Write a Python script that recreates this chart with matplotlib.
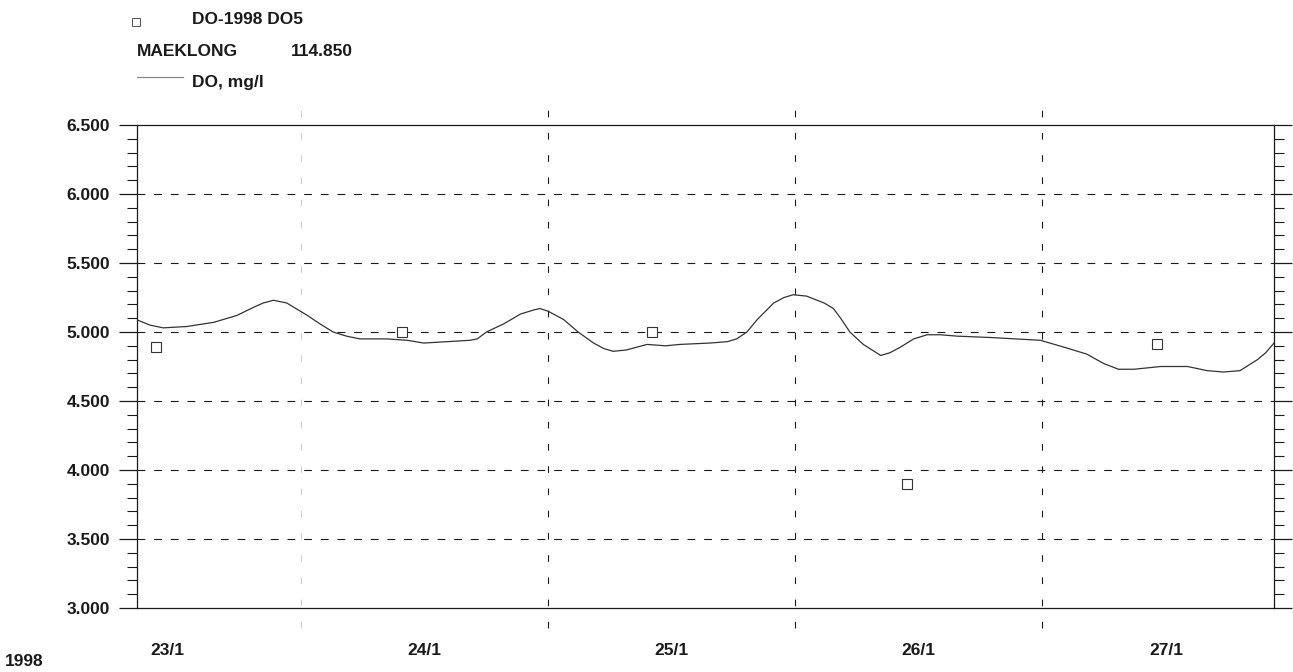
import matplotlib
matplotlib.use("Agg")
import matplotlib.pyplot as plt
from matplotlib.ticker import MultipleLocator, FormatStrFormatter
import matplotlib.transforms as mtransforms

plt.rcParams['font.family'] = ['Liberation Sans', 'DejaVu Sans']

# Hours counted from 23/1/1998 00:00
do_hours = [8.0, 9.3, 10.6, 12.9, 15.5, 17.75, 19.4, 20.3, 21.3, 22.6, 24.6, 25.8,
            27.1, 28.4, 29.7, 32.3, 34.3, 35.9, 38.2, 40.4, 41.1, 42.0, 43.7, 45.3,
            46.6, 47.2, 48.0, 49.5, 50.9, 52.4, 53.4, 54.3, 55.6, 57.6, 59.4, 60.8,
            63.7, 65.4, 66.3, 67.3, 68.3, 69.9, 70.9, 71.8, 73.1, 74.8, 75.7, 76.4,
            77.3, 78.6, 80.3, 81.2, 82.2, 83.5, 84.8, 86.1, 87.7, 91.0, 95.8, 98.1,
            100.3, 102.0, 103.4, 104.9, 107.5, 110.1, 112.0, 113.6, 115.2, 116.9,
            117.7, 118.5]
do_values = [5.09, 5.05, 5.03, 5.04, 5.07, 5.12, 5.18, 5.21, 5.23, 5.21, 5.12, 5.06,
             5.00, 4.97, 4.95, 4.95, 4.94, 4.92, 4.93, 4.94, 4.95, 5.00, 5.06, 5.13,
             5.16, 5.17, 5.15, 5.09, 5.00, 4.92, 4.88, 4.86, 4.87, 4.91, 4.90, 4.91,
             4.92, 4.93, 4.95, 5.00, 5.09, 5.21, 5.25, 5.27, 5.26, 5.21, 5.17, 5.10,
             5.00, 4.91, 4.83, 4.85, 4.89, 4.95, 4.98, 4.98, 4.97, 4.96, 4.94, 4.89,
             4.84, 4.77, 4.73, 4.73, 4.75, 4.75, 4.72, 4.71, 4.72, 4.80,
             4.85, 4.92]

# Spot samples at station DO5
sample_hours = [9.9, 33.8, 58.1, 82.8, 107.1]
sample_values = [4.89, 5.00, 5.00, 3.90, 4.91]

day_bounds = [24, 48, 72, 96]
day_label_pos = [11, 36, 60, 84, 108]
day_labels = ['23/1', '24/1', '25/1', '26/1', '27/1']

ink = '#1a1a1a'
fs = 12.5

fig = plt.figure(figsize=(12.93, 6.72), dpi=100)
ax = fig.add_axes([136.5 / 1293, 1 - 608 / 672, (1274 - 136.5) / 1293, (608 - 125) / 672])

ax.set_xlim(8, 118.5)
ax.set_ylim(3.0, 6.5)

# horizontal dashed grid
for yv in [3.5, 4.0, 4.5, 5.0, 5.5, 6.0]:
    ax.axhline(yv, color=ink, lw=0.8, dashes=(7, 8), zorder=1)

# day boundaries, running past the frame
trans = mtransforms.blended_transform_factory(ax.transData, ax.transAxes)
for i, xb in enumerate(day_bounds):
    col = '#d0d0d0' if i == 0 else ink
    ax.plot([xb, xb], [-0.042, 1.052], color=col, lw=0.8, dashes=(6, 14),
            transform=trans, clip_on=False, zorder=1)

ax.plot(do_hours, do_values, color='#333333', lw=0.9, zorder=3)
ax.plot(sample_hours, sample_values, linestyle='none', marker='s', ms=6.5,
        mfc='white', mec='#333333', mew=0.8, zorder=4)

for s in ax.spines.values():
    s.set_color(ink)
    s.set_linewidth(0.9)

ax.yaxis.set_major_locator(MultipleLocator(0.5))
ax.yaxis.set_minor_locator(MultipleLocator(0.1))
ax.yaxis.set_major_formatter(FormatStrFormatter('%.3f'))
ax.tick_params(axis='y', which='major', direction='out', length=13, width=0.9,
               color=ink, left=True, right=True, pad=6, labelsize=fs,
               labelcolor=ink)
ax.tick_params(axis='y', which='minor', direction='out', length=7, width=0.8,
               color=ink, left=True, right=True)
for lab in ax.get_yticklabels():
    lab.set_fontweight('bold')

ax.set_xticks(day_label_pos)
ax.set_xticklabels(day_labels, fontweight='bold', fontsize=fs, color=ink)
ax.tick_params(axis='x', which='both', length=0, pad=25)

# header / legend block
fig.text(5 / 1293, 1 - 662 / 672, '1998', fontsize=fs, fontweight='bold',
         color=ink, va='center', ha='left')
fig.lines.append(plt.Line2D([135.5 / 1293], [1 - 21.5 / 672], marker='s', ms=5.5,
                            mfc='white', mec='#555555', mew=0.7,
                            linestyle='none', transform=fig.transFigure))
fig.text(192 / 1293, 1 - 19 / 672, 'DO-1998 DO5', fontsize=fs, fontweight='bold',
         color=ink, va='center', ha='left')
fig.text(137 / 1293, 1 - 51 / 672, 'MAEKLONG', fontsize=fs, fontweight='bold',
         color=ink, va='center', ha='left')
fig.text(291 / 1293, 1 - 51 / 672, '114.850', fontsize=fs, fontweight='bold',
         color=ink, va='center', ha='left')
fig.lines.append(plt.Line2D([137 / 1293, 183 / 1293], [1 - 77 / 672, 1 - 77 / 672],
                            color='#888888', lw=0.9, transform=fig.transFigure))
fig.text(192 / 1293, 1 - 83 / 672, 'DO, mg/l', fontsize=fs, fontweight='bold',
         color=ink, va='center', ha='left')

fig.savefig('out.png', dpi=100)
